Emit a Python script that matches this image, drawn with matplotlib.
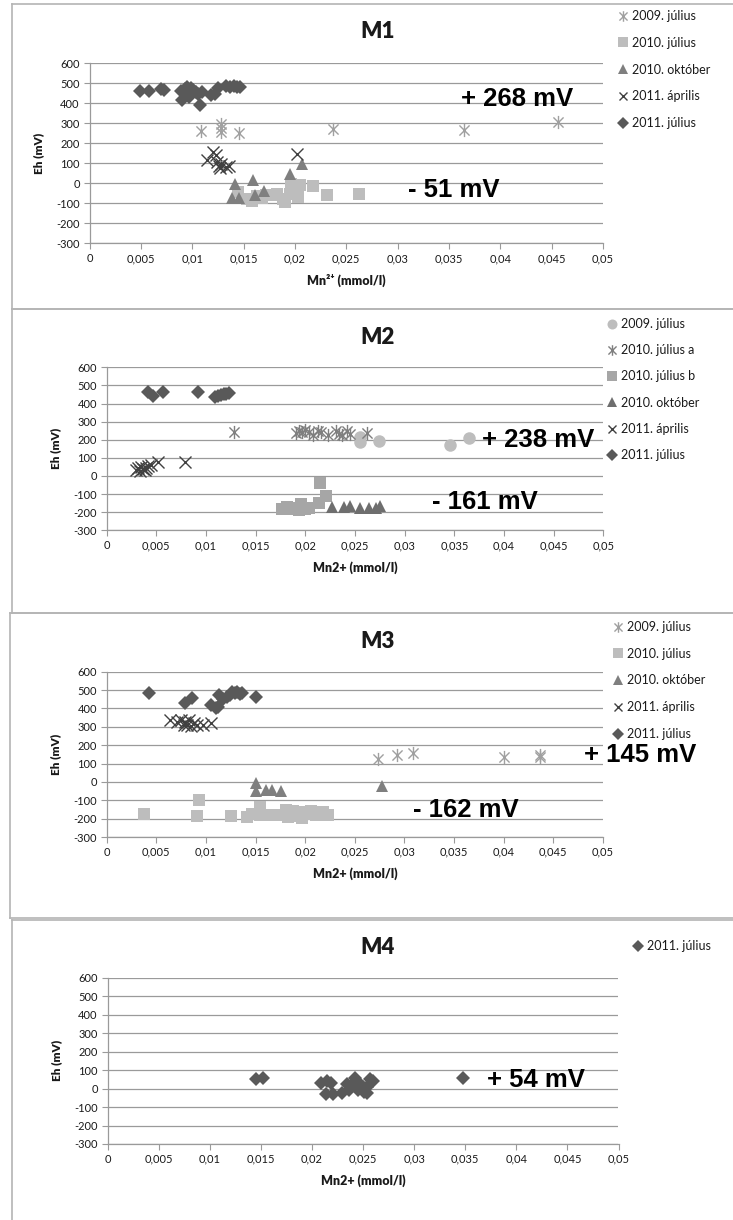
import matplotlib
matplotlib.use('Agg')
import matplotlib.pyplot as plt
from matplotlib.path import Path
from matplotlib.lines import Line2D

W, H = 733, 1220
FONT = ['Lato', 'DejaVu Sans']
plt.rcParams['font.family'] = FONT

# ---------------- data ----------------
xticks = [0, 0.005, 0.01, 0.015, 0.02, 0.025, 0.03, 0.035, 0.04, 0.045, 0.05]
xtick_labels = ['0', '0,005', '0,01', '0,015', '0,02', '0,025', '0,03', '0,035', '0,04', '0,045', '0,05']
yticks = [-300, -200, -100, 0, 100, 200, 300, 400, 500, 600]
ytick_labels = ['-300', '-200', '-100', '0', '100', '200', '300', '400', '500', '600']

# M1
m1_2009jul_x = [0.0109, 0.0128, 0.0128, 0.0128, 0.0146, 0.0237, 0.0365, 0.0456]
m1_2009jul_y = [262, 298, 275, 255, 253, 270, 266, 308]
m1_2010jul_x = [0.0145, 0.0153, 0.0158, 0.0163, 0.0168, 0.0172, 0.0178, 0.0183, 0.0188,
                0.0190, 0.0195, 0.0196, 0.0203, 0.0205, 0.0218, 0.0231, 0.0262]
m1_2010jul_y = [-45, -80, -90, -65, -75, -60, -60, -55, -80, -95, -55, -5, -70, -10, -15, -58, -53]
m1_2010okt_x = [0.0139, 0.0142, 0.0146, 0.0159, 0.0161, 0.0170, 0.0195, 0.0207]
m1_2010okt_y = [-75, -5, -72, 17, -59, -38, 47, 97]
m1_2011apr_x = [0.0114, 0.0120, 0.0123, 0.0124, 0.0126, 0.0127, 0.0128, 0.0133, 0.0136, 0.0202]
m1_2011apr_y = [117, 158, 140, 105, 85, 75, 95, 80, 88, 147]
m1_2011jul_x = [0.0049, 0.0058, 0.0070, 0.0073, 0.0089, 0.0090, 0.0093, 0.0095, 0.0097, 0.0099,
                0.0101, 0.0104, 0.0106, 0.0108, 0.0110, 0.0118, 0.0122, 0.0125, 0.0133, 0.0137,
                0.0141, 0.0144, 0.0147]
m1_2011jul_y = [462, 462, 470, 465, 460, 415, 472, 480, 430, 475, 465, 455, 445, 390, 455, 440,
                445, 475, 487, 482, 485, 480, 482]

# M2
m2_2009jul_x = [0.0255, 0.0255, 0.0274, 0.0346, 0.0365]
m2_2009jul_y = [214, 185, 192, 170, 208]
m2_2010jula_x = [0.0128, 0.0191, 0.0194, 0.0197, 0.0200, 0.0204, 0.0208, 0.0213, 0.0216, 0.0223,
                 0.0231, 0.0234, 0.0237, 0.0242, 0.0245, 0.0262]
m2_2010jula_y = [245, 240, 250, 245, 252, 245, 228, 250, 245, 225, 250, 232, 225, 250, 232, 238]
m2_2010julb_x = [0.0176, 0.0182, 0.0186, 0.0190, 0.0194, 0.0196, 0.0200, 0.0204, 0.0214, 0.0215, 0.0221]
m2_2010julb_y = [-180, -170, -180, -175, -190, -155, -180, -175, -150, -40, -110]
m2_2010okt_x = [0.0227, 0.0239, 0.0245, 0.0255, 0.0264, 0.0271, 0.0275]
m2_2010okt_y = [-170, -172, -165, -175, -177, -177, -168]
m2_2011apr_x = [0.0030, 0.0032, 0.0034, 0.0035, 0.0037, 0.0039, 0.0040, 0.0042, 0.0045, 0.0052, 0.0079]
m2_2011apr_y = [35, 42, 30, 48, 40, 35, 46, 55, 60, 79, 79]
m2_2011jul_x = [0.0042, 0.0047, 0.0057, 0.0092, 0.0109, 0.0112, 0.0115, 0.0118, 0.0120, 0.0123]
m2_2011jul_y = [461, 439, 461, 461, 435, 440, 445, 450, 455, 458]

# M3
m3_2009jul_x = [0.0273, 0.0292, 0.0309, 0.0400, 0.0437, 0.0437]
m3_2009jul_y = [124, 149, 155, 136, 149, 134]
m3_2010jul_x = [0.0038, 0.0091, 0.0093, 0.0125, 0.0141, 0.0146, 0.0154, 0.0154, 0.0162, 0.0174,
                0.0181, 0.0183, 0.0188, 0.0191, 0.0195, 0.0197, 0.0201, 0.0206, 0.0211, 0.0218, 0.0223]
m3_2010jul_y = [-173, -185, -100, -185, -191, -173, -136, -182, -182, -182, -155, -191, -160, -185,
                -164, -196, -175, -158, -182, -164, -182]
m3_2010okt_x = [0.0150, 0.0150, 0.0160, 0.0167, 0.0176, 0.0277]
m3_2010okt_y = [-5, -50, -45, -45, -49, -25]
m3_2011apr_x = [0.0064, 0.0071, 0.0075, 0.0078, 0.0079, 0.0081, 0.0083, 0.0085, 0.0088, 0.0091, 0.0097, 0.0105]
m3_2011apr_y = [336, 327, 336, 309, 325, 310, 335, 305, 318, 309, 309, 318]
m3_2011jul_x = [0.0043, 0.0079, 0.0086, 0.0105, 0.0110, 0.0112, 0.0113, 0.0117, 0.0121, 0.0124,
                0.0126, 0.0129, 0.0131, 0.0134, 0.0136, 0.0150]
m3_2011jul_y = [482, 427, 458, 418, 400, 410, 473, 450, 464, 472, 491, 485, 490, 478, 482, 464]

# M4
m4_2011jul_x = [0.0145, 0.0152, 0.0209, 0.0215, 0.0219, 0.0214, 0.0221, 0.0229, 0.0234, 0.0236,
                0.0239, 0.0242, 0.0244, 0.0245, 0.0248, 0.0250, 0.0251, 0.0254, 0.0254, 0.0257,
                0.0260, 0.0348]
m4_2011jul_y = [50, 58, 31, 42, 31, -32, -32, -23, 27, -9, 18, 55, 35, -9, 20, 10, -18, 9, -23,
                50, 40, 58]

# ---------------- styling ----------------
ast_path = Path([(-1, -1), (1, 1), (-1, 1), (1, -1), (0, -1.3), (0, 1.3)],
                [Path.MOVETO, Path.LINETO, Path.MOVETO, Path.LINETO, Path.MOVETO, Path.LINETO])

STY = {
    'ast':  dict(marker=ast_path, ms=9.5, mfc='none', mew=1.0),
    'sq':   dict(marker='s', ms=8.5, mew=0),
    'tri':  dict(marker='^', ms=9, mew=0),
    'x':    dict(marker='x', ms=8, mew=1.0),
    'dia':  dict(marker='D', ms=7.2, mew=0),
    'circ': dict(marker='o', ms=9, mew=0),
}
C_LIGHT = '#bdbdbd'
C_AST = '#a0a0a0'
C_MID = '#7f7f7f'
C_DARK = '#404040'
C_DIA = '#595959'
TXT = '#1a1a1a'

fig = plt.figure(figsize=(W / 100, H / 100), dpi=100)


def px_axes(left, right, top, bottom):
    return fig.add_axes([left / W, 1 - bottom / H, (right - left) / W, (bottom - top) / H])


def frame(x0, x1, y0, y1):
    kw = dict(color='#b4b4b4', lw=1.2, transform=fig.transFigure)
    fig.add_artist(Line2D([x0 / W, x1 / W], [1 - y0 / H, 1 - y0 / H], **kw))
    fig.add_artist(Line2D([x0 / W, x0 / W], [1 - y0 / H, 1 - y1 / H], **kw))
    fig.add_artist(Line2D([x0 / W, x1 / W], [1 - y1 / H, 1 - y1 / H], **kw))


def setup(ax, xlabel):
    ax.set_xlim(0, 0.05)
    ax.set_ylim(-300, 600)
    ax.set_xticks(xticks)
    ax.set_xticklabels(xtick_labels)
    ax.set_yticks(yticks)
    ax.set_yticklabels(ytick_labels)
    ax.tick_params(axis='both', labelsize=8, colors='#9a9a9a', labelcolor=TXT, length=4,
                   width=0.8, direction='out', pad=3)
    ax.grid(axis='y', color='#9a9a9a', lw=0.9)
    ax.set_axisbelow(True)
    for s in ['top', 'right']:
        ax.spines[s].set_visible(False)
    for s in ['left', 'bottom']:
        ax.spines[s].set_color('#9a9a9a')
        ax.spines[s].set_linewidth(0.9)
    ax.set_xlabel(xlabel, fontsize=9, fontweight='heavy', labelpad=7, color=TXT)
    ax.set_ylabel('Eh (mV)', fontsize=8.5, fontweight='heavy', labelpad=9, color=TXT)


def plot(ax, x, y, kind, color, label):
    st = dict(STY[kind])
    if kind in ('ast', 'x'):
        st['mec'] = color
    else:
        st['mfc'] = color
    ax.plot(x, y, ls='none', color=color, label=label, clip_on=False, **st)


def legend(ax, x, y, spacing):
    leg = ax.legend(loc='upper left', bbox_to_anchor=(x / W, 1 - y / H), bbox_transform=fig.transFigure,
                    frameon=False, fontsize=9, handlelength=0.8, handletextpad=0.3,
                    labelspacing=spacing, borderpad=0, borderaxespad=0, markerscale=0.8)
    for t in leg.get_texts():
        t.set_color(TXT)


def annot(ax, x, y, text):
    fig.text(x / W, 1 - y / H, text, ha='center', va='center', fontsize=18.5,
             fontweight='bold', family=['Liberation Sans', 'DejaVu Sans'])


def title(ax, y, text):
    fig.text(378 / W, 1 - y / H, text, ha='center', va='center', fontsize=16,
             fontweight='heavy', color=TXT)


# frames
frame(12, 733, 4, 309)
frame(12, 733, 309, 613)
frame(10, 733, 613, 918)
frame(12, 733, 920, 1240)

# ---- M1 ----
ax1 = px_axes(89.5, 603, 63.3, 243.3)
setup(ax1, 'Mn²⁺ (mmol/l)')
plot(ax1, m1_2009jul_x, m1_2009jul_y, 'ast', C_AST, '2009. július')
plot(ax1, m1_2010jul_x, m1_2010jul_y, 'sq', C_LIGHT, '2010. július')
plot(ax1, m1_2010okt_x, m1_2010okt_y, 'tri', C_MID, '2010. október')
plot(ax1, m1_2011apr_x, m1_2011apr_y, 'x', C_DARK, '2011. április')
plot(ax1, m1_2011jul_x, m1_2011jul_y, 'dia', C_DIA, '2011. július')
legend(ax1, 618, 10, 1.18)
title(ax1, 32, 'M1')
annot(ax1, 517, 99, '+ 268 mV')
annot(ax1, 454, 190, '- 51 mV')

# ---- M2 ----
ax2 = px_axes(106.7, 603.3, 367.3, 530.3)
setup(ax2, 'Mn2+ (mmol/l)')
plot(ax2, m2_2009jul_x, m2_2009jul_y, 'circ', C_LIGHT, '2009. július')
plot(ax2, m2_2010jula_x, m2_2010jula_y, 'ast', C_MID, '2010. július a')
plot(ax2, m2_2010julb_x, m2_2010julb_y, 'sq', '#a6a6a6', '2010. július b')
plot(ax2, m2_2010okt_x, m2_2010okt_y, 'tri', '#6e6e6e', '2010. október')
plot(ax2, m2_2011apr_x, m2_2011apr_y, 'x', C_DARK, '2011. április')
plot(ax2, m2_2011jul_x, m2_2011jul_y, 'dia', C_DIA, '2011. július')
legend(ax2, 607, 318, 1.14)
title(ax2, 337, 'M2')
annot(ax2, 538, 440, '+ 238 mV')
annot(ax2, 485, 502, '- 161 mV')

# ---- M3 ----
ax3 = px_axes(106.7, 603, 671.7, 837)
setup(ax3, 'Mn2+ (mmol/l)')
plot(ax3, m3_2009jul_x, m3_2009jul_y, 'ast', C_AST, '2009. július')
plot(ax3, m3_2010jul_x, m3_2010jul_y, 'sq', C_LIGHT, '2010. július')
plot(ax3, m3_2010okt_x, m3_2010okt_y, 'tri', C_MID, '2010. október')
plot(ax3, m3_2011apr_x, m3_2011apr_y, 'x', C_DARK, '2011. április')
plot(ax3, m3_2011jul_x, m3_2011jul_y, 'dia', C_DIA, '2011. július')
legend(ax3, 613, 621, 1.18)
title(ax3, 642, 'M3')
annot(ax3, 640, 755, '+ 145 mV')
annot(ax3, 466, 810, '- 162 mV')

# ---- M4 ----
ax4 = px_axes(107.5, 618.5, 977.7, 1144)
setup(ax4, 'Mn2+ (mmol/l)')
plot(ax4, m4_2011jul_x, m4_2011jul_y, 'dia', C_DIA, '2011. július')
legend(ax4, 633, 940, 1.18)
title(ax4, 947, 'M4')
annot(ax4, 536, 1080, '+ 54 mV')

fig.savefig('out.png', dpi=100)
